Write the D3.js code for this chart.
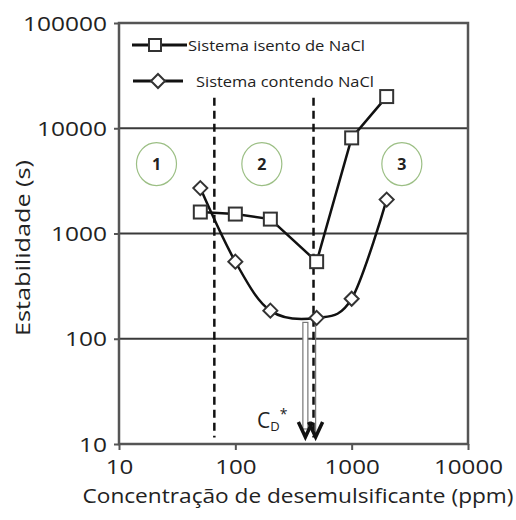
<!DOCTYPE html>
<html>
<head>
<meta charset="utf-8">
<script src="https://cdn.jsdelivr.net/npm/d3@7"></script>
<style>
  body { margin: 0; background: #fff; }
  text { font-family: "Open Sans", sans-serif; fill: #222; }
</style>
</head>
<body>
<div id="vis"></div>
<script>
const FRAME_WIDTH = 516;
const FRAME_HEIGHT = 520;
const MARGINS = {left: 119, right: 48, top: 23, bottom: 76};

// data
const concentrations = [50, 100, 200, 500, 1000, 2000];
const semNaCl = [1600, 1530, 1370, 540, 8100, 20000];
const comNaCl = [2700, 540, 185, 158, 240, 2100];
const seriesNames = ["Sistema isento de NaCl", "Sistema contendo NaCl"];
const xTicks = [10, 100, 1000, 10000];
const yTicks = [10, 100, 1000, 10000, 100000];
const gridValues = [100, 1000, 10000];
const regionBounds = [66, 470];          // dashed lines (ppm)
const regionLabels = ["1", "2", "3"];
const regionCenters = [21, 169, 2700];   // ppm
const regionLevel = 4570;                // s
const cdArrows = [400, 490];             // ppm
const cdFrom = [143, 152];               // s

const X_SCALE = d3.scaleLog().domain([10, 10000])
                  .range([MARGINS.left, FRAME_WIDTH - MARGINS.right]);
const Y_SCALE = d3.scaleLog().domain([10, 100000])
                  .range([FRAME_HEIGHT - MARGINS.bottom, MARGINS.top]);

const FRAME = d3.select("#vis")
                .append("svg")
                  .attr("width", FRAME_WIDTH)
                  .attr("height", FRAME_HEIGHT);

const x0 = X_SCALE.range()[0], x1 = X_SCALE.range()[1];
const yb = Y_SCALE.range()[0], yt = Y_SCALE.range()[1];

// grid lines
FRAME.selectAll(".grid")
  .data(gridValues)
  .enter()
  .append("line")
    .attr("x1", x0).attr("x2", x1)
    .attr("y1", d => Y_SCALE(d)).attr("y2", d => Y_SCALE(d))
    .attr("stroke", "#3a3a3a")
    .attr("stroke-width", 2);

// plot border
FRAME.append("rect")
  .attr("x", x0).attr("y", yt)
  .attr("width", x1 - x0).attr("height", yb - yt)
  .attr("fill", "none")
  .attr("stroke", "#555")
  .attr("stroke-width", 2.5);

// axes
const yAxis = FRAME.append("g")
  .attr("transform", "translate(" + x0 + ",0)")
  .call(d3.axisLeft(Y_SCALE).tickValues(yTicks).tickFormat(d3.format("d"))
          .tickSize(5).tickPadding(7));
yAxis.select(".domain").remove();
yAxis.selectAll("line").attr("stroke", "#555").attr("stroke-width", 2);
yAxis.selectAll("text")
  .attr("font-size", 20)
  .attr("font-family", "Open Sans")
  .attr("fill", "#222")
  .attr("dy", "0.36em")
  .attr("lengthAdjust", "spacingAndGlyphs")
  .attr("textLength", d => String(d).length * 14);

const xAxis = FRAME.append("g")
  .attr("transform", "translate(0," + yb + ")")
  .call(d3.axisBottom(X_SCALE).tickValues(xTicks).tickFormat(d3.format("d"))
          .tickSize(6).tickPadding(10));
xAxis.select(".domain").remove();
xAxis.selectAll("line").attr("stroke", "#555").attr("stroke-width", 2);
xAxis.selectAll("text")
  .attr("font-size", 20)
  .attr("font-family", "Open Sans")
  .attr("fill", "#222")
  .attr("lengthAdjust", "spacingAndGlyphs")
  .attr("textLength", d => String(d).length * 13.8);

// axis titles
FRAME.append("text")
  .attr("x", 298).attr("y", 503)
  .attr("text-anchor", "middle")
  .attr("font-size", 20)
  .attr("lengthAdjust", "spacingAndGlyphs")
  .attr("textLength", 431)
  .text("Concentração de desemulsificante (ppm)");

FRAME.append("text")
  .attr("transform", "translate(30,248) rotate(-90)")
  .attr("text-anchor", "middle")
  .attr("font-size", 20)
  .attr("lengthAdjust", "spacingAndGlyphs")
  .attr("textLength", 176)
  .text("Estabilidade (s)");

// region dashed lines
FRAME.selectAll(".bound")
  .data(regionBounds)
  .enter()
  .append("line")
    .attr("x1", d => X_SCALE(d)).attr("x2", d => X_SCALE(d))
    .attr("y1", Y_SCALE(19500)).attr("y2", Y_SCALE(11.5))
    .attr("stroke", "#111")
    .attr("stroke-width", 2.5)
    .attr("stroke-dasharray", "8,5");

// region circles
regionLabels.forEach((lab, i) => {
  const cx = X_SCALE(regionCenters[i]), cy = Y_SCALE(regionLevel);
  FRAME.append("ellipse")
    .attr("cx", cx).attr("cy", cy)
    .attr("rx", 20).attr("ry", 21.5)
    .attr("fill", "none")
    .attr("stroke", "#9cbf85")
    .attr("stroke-width", 1.2);
  FRAME.append("text")
    .attr("x", cx).attr("y", cy + 6)
    .attr("text-anchor", "middle")
    .attr("font-size", 16)
    .attr("font-weight", "bold")
    .attr("fill", "#111")
    .text(lab);
});

// CD* arrows
cdArrows.forEach((c, i) => {
  const ax = X_SCALE(c);
  const top = Y_SCALE(cdFrom[i]);
  const tip = 437;
  if (i === 0) {
    FRAME.append("rect")
      .attr("x", ax - 2.5).attr("y", top)
      .attr("width", 5).attr("height", tip - 8 - top)
      .attr("fill", "#fff")
      .attr("stroke", "#777")
      .attr("stroke-width", 1.2);
  } else {
    FRAME.append("line")
      .attr("x1", ax).attr("x2", ax)
      .attr("y1", top).attr("y2", tip - 4)
      .attr("stroke", "#777")
      .attr("stroke-width", 1.2);
  }
  FRAME.append("path")
    .attr("d", `M${ax - 7},${tip - 15} L${ax},${tip} L${ax + 7},${tip - 15}`)
    .attr("fill", "none")
    .attr("stroke", "#111")
    .attr("stroke-width", 3.5);
});

const cd = FRAME.append("text")
  .attr("x", 257).attr("y", 428)
  .attr("fill", "#777")
  .attr("font-size", 21);
cd.append("tspan").text("C");
cd.append("tspan").attr("font-size", 13).attr("dy", 3).text("D");
cd.append("tspan").attr("font-size", 14).attr("dy", -12).text("*");

// series lines
const pts1 = concentrations.map((c, i) => [X_SCALE(c), Y_SCALE(semNaCl[i])]);
const pts2 = concentrations.map((c, i) => [X_SCALE(c), Y_SCALE(comNaCl[i])]);

FRAME.append("path")
  .attr("d", d3.line()(pts1))
  .attr("fill", "none")
  .attr("stroke", "#111")
  .attr("stroke-width", 2.5);

FRAME.append("path")
  .attr("d", d3.line().curve(d3.curveCatmullRom.alpha(0))(pts2))
  .attr("fill", "none")
  .attr("stroke", "#111")
  .attr("stroke-width", 2.5);

const SQ = 13, DM = 7;
FRAME.selectAll(".sq")
  .data(pts1)
  .enter()
  .append("rect")
    .attr("x", d => d[0] - SQ / 2).attr("y", d => d[1] - SQ / 2)
    .attr("width", SQ).attr("height", SQ)
    .attr("fill", "#fff")
    .attr("stroke", "#333")
    .attr("stroke-width", 2);

const diamond = (x, y) => `M${x},${y - DM} L${x + DM},${y} L${x},${y + DM} L${x - DM},${y} Z`;
FRAME.selectAll(".dm")
  .data(pts2)
  .enter()
  .append("path")
    .attr("d", d => diamond(d[0], d[1]))
    .attr("fill", "#fff")
    .attr("stroke", "#333")
    .attr("stroke-width", 2);

// legend
const legendRows = [{y: 45, mark: 155, x1: 132, x2: 187, tx: 188, tl: 177},
                    {y: 81, mark: 158, x1: 133, x2: 183, tx: 196, tl: 178}];
legendRows.forEach((r, i) => {
  FRAME.append("line")
    .attr("x1", r.x1).attr("x2", r.x2)
    .attr("y1", r.y).attr("y2", r.y)
    .attr("stroke", "#111")
    .attr("stroke-width", 3);
  if (i === 0) {
    FRAME.append("rect")
      .attr("x", r.mark - 6).attr("y", r.y - 6)
      .attr("width", 12).attr("height", 12)
      .attr("fill", "#fff").attr("stroke", "#333").attr("stroke-width", 2);
  } else {
    FRAME.append("path")
      .attr("d", diamond(r.mark, r.y))
      .attr("fill", "#fff").attr("stroke", "#333").attr("stroke-width", 2);
  }
  FRAME.append("text")
    .attr("x", r.tx).attr("y", r.y + 6)
    .attr("font-size", 15)
    .attr("fill", "#222")
    .attr("lengthAdjust", "spacingAndGlyphs")
    .attr("textLength", r.tl)
    .text(seriesNames[i]);
});
</script>
</body>
</html>
